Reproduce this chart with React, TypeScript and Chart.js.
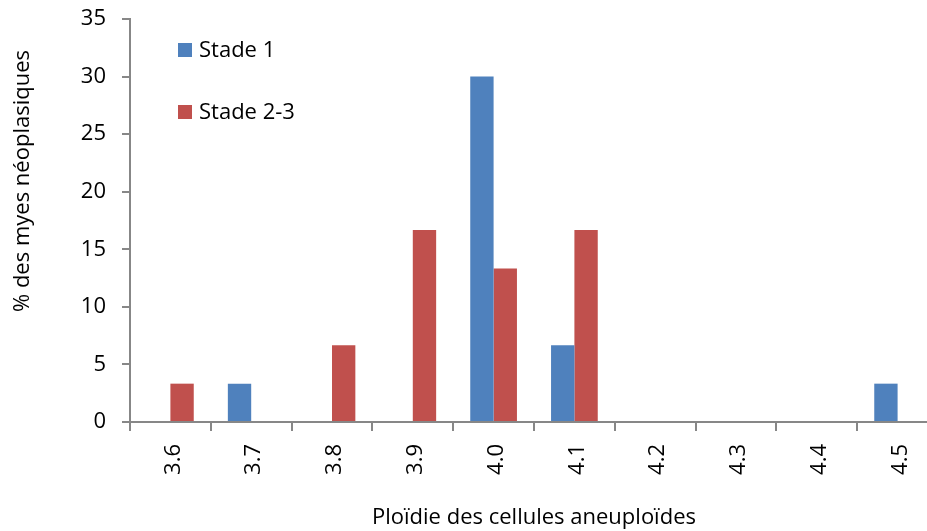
import React, { useEffect, useRef } from 'react';
import { Chart, registerables } from 'chart.js';

Chart.register(...registerables);

const categories = ['3.6', '3.7', '3.8', '3.9', '4.0', '4.1', '4.2', '4.3', '4.4', '4.5'];
const stade1 = [0, 3.33, 0, 0, 30, 6.67, 0, 0, 0, 3.33];
const stade23 = [3.33, 0, 6.67, 16.67, 13.33, 16.67, 0, 0, 0, 0];
const seriesNames = ['Stade 1', 'Stade 2-3'];
const yTitleText = '% des myes néoplasiques';
const xTitleText = 'Ploïdie des cellules aneuploïdes';

const FONT = "'Open Sans', sans-serif";
const AXIS = '#878787';

export default function App() {
  const ref = useRef<HTMLCanvasElement>(null);

  useEffect(() => {
    if (!ref.current) return;

    const insideLegend = {
      id: 'insideLegend',
      afterDraw(chart: any) {
        const { ctx, chartArea } = chart;
        ctx.save();
        chart.data.datasets.forEach((ds: any, i: number) => {
          const bx = chartArea.left + 48;
          const by = chartArea.top + 24 + i * 62;
          ctx.fillStyle = ds.backgroundColor;
          ctx.fillRect(bx, by, 14, 14);
          ctx.fillStyle = '#000';
          ctx.font = `22px ${FONT}`;
          ctx.textBaseline = 'middle';
          ctx.textAlign = 'left';
          ctx.fillText(ds.label, bx + 21, by + 8);
        });
        ctx.restore();
      },
    };

    const yTitle = {
      id: 'yTitle',
      afterDraw(chart: any) {
        const { ctx, chartArea } = chart;
        ctx.save();
        ctx.translate(23, chartArea.top + 162);
        ctx.rotate(-Math.PI / 2);
        ctx.fillStyle = '#000';
        ctx.font = `22px ${FONT}`;
        ctx.textAlign = 'center';
        ctx.textBaseline = 'middle';
        ctx.fillText(yTitleText, 0, 0);
        ctx.restore();
      },
    };

    const chart = new Chart(ref.current, {
      type: 'bar',
      data: {
        labels: categories,
        datasets: [
          {
            label: seriesNames[0],
            data: stade1,
            backgroundColor: '#4F81BD',
            categoryPercentage: 0.578,
            barPercentage: 1,
          },
          {
            label: seriesNames[1],
            data: stade23,
            backgroundColor: '#C0504D',
            categoryPercentage: 0.578,
            barPercentage: 1,
          },
        ],
      },
      options: {
        animation: false,
        responsive: false,
        devicePixelRatio: 1,
        layout: { padding: { top: 19, right: 22, left: 0, bottom: 0 } },
        plugins: {
          legend: { display: false },
          tooltip: { enabled: false },
        },
        scales: {
          x: {
            grid: {
              display: true,
              drawOnChartArea: false,
              drawTicks: true,
              tickLength: 9,
              color: AXIS,
              lineWidth: 2,
              offset: true,
            },
            border: { display: true, color: AXIS, width: 2 },
            ticks: {
              minRotation: 90,
              maxRotation: 90,
              padding: 13,
              labelOffset: 3,
              color: '#000',
              font: { family: FONT, size: 22 },
            },
            title: {
              display: true,
              text: xTitleText,
              color: '#000',
              font: { family: FONT, size: 22 },
              padding: { top: 0, bottom: 0 },
            },
            afterFit(scale: any) {
              scale.height = 109;
              scale.paddingLeft = 0;
              scale.paddingRight = 0;
            },
          },
          y: {
            min: 0,
            max: 35,
            grid: {
              display: true,
              drawOnChartArea: false,
              drawTicks: true,
              tickLength: 8,
              color: AXIS,
              lineWidth: 2,
            },
            border: { display: true, color: AXIS, width: 2 },
            ticks: {
              stepSize: 5,
              padding: 16,
              color: '#000',
              font: { family: FONT, size: 22 },
            },
            afterFit(scale: any) {
              scale.width = 130;
              scale.paddingTop = 0;
              scale.paddingBottom = 0;
            },
          },
        },
      },
      plugins: [insideLegend, yTitle],
    });

    return () => chart.destroy();
  }, []);

  return (
    <div
      style={{
        position: 'fixed',
        left: 0,
        top: 0,
        width: 927,
        height: 531,
        overflow: 'hidden',
        background: '#fff',
      }}
    >
      <canvas ref={ref} width={960} height={531} style={{ width: 960, height: 531, display: 'block' }} />
    </div>
  );
}
